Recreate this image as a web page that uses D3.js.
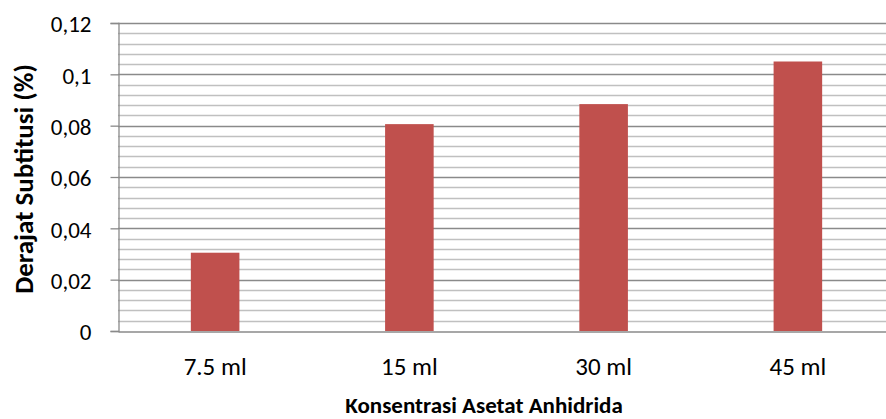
<!DOCTYPE html>
<html>
<head>
<meta charset="utf-8">
<script src="https://cdn.jsdelivr.net/npm/d3@7"></script>
<style>
  html, body { margin: 0; padding: 0; background: #fff; }
  svg { display: block; }
  text { font-family: Carlito, Calibri, Lato, "Open Sans", sans-serif; fill: #000; }
</style>
</head>
<body>
<svg id="chart" width="886" height="419"></svg>
<script>
// Degree of substitution per acetic anhydride amount
const categories = ["7.5 ml", "15 ml", "30 ml", "45 ml"];
const values = [0.0305, 0.0806, 0.0884, 0.105];
const yTicks = [0, 0.02, 0.04, 0.06, 0.08, 0.1, 0.12];
const yTickLabels = ["0", "0,02", "0,04", "0,06", "0,08", "0,1", "0,12"];
const yMinorStep = 0.004;

const svg = d3.select("#chart");
const plot = { left: 118, right: 895, top: 23, bottom: 331 };

const x = d3.scaleBand().domain(categories).range([plot.left, plot.right]).padding(0);
const y = d3.scaleLinear().domain([0, 0.12]).range([plot.bottom, plot.top]);

// minor gridlines
const minor = d3.range(0, 0.12 + 1e-9, yMinorStep).filter(v => !yTicks.some(t => Math.abs(t - v) < 1e-9));
svg.append("g").selectAll("line").data(minor).join("line")
  .attr("x1", plot.left).attr("x2", plot.right)
  .attr("y1", d => Math.round(y(d)) + 0.5).attr("y2", d => Math.round(y(d)) + 0.5)
  .attr("stroke", "#c0c0c0").attr("stroke-width", 1.3);

// major gridlines
svg.append("g").selectAll("line").data(yTicks.slice(1)).join("line")
  .attr("x1", plot.left).attr("x2", plot.right)
  .attr("y1", d => Math.round(y(d)) + 0.5).attr("y2", d => Math.round(y(d)) + 0.5)
  .attr("stroke", "#8a8a8a").attr("stroke-width", 1.3);

// bars
const bw = x.bandwidth() * 0.25;
svg.append("g").selectAll("rect").data(values).join("rect")
  .attr("x", (d, i) => x(categories[i]) + x.bandwidth() / 2 - bw / 2)
  .attr("width", bw)
  .attr("y", d => y(d))
  .attr("height", d => y(0) - y(d))
  .attr("fill", "#c0504d");

// y axis
const yAxis = d3.axisLeft(y).tickValues(yTicks)
  .tickFormat((d, i) => yTickLabels[i]).tickSize(8).tickPadding(19);
const gy = svg.append("g").attr("transform", `translate(${plot.left + 0.5},0)`).call(yAxis);
gy.select(".domain").attr("stroke", "#8a8a8a").attr("stroke-width", 1.3);
gy.selectAll(".tick line").attr("stroke", "#8a8a8a").attr("stroke-width", 1.3);
gy.selectAll(".tick text").style("font-size", "23px").attr("dy", "0.38em").attr("fill", "#000");

// x axis
const xAxis = d3.axisBottom(x).tickSize(0).tickPadding(26);
const gx = svg.append("g").attr("transform", `translate(0,${plot.bottom + 0.5})`).call(xAxis);
gx.select(".domain").attr("stroke", "#8a8a8a").attr("stroke-width", 1.3);
gx.selectAll(".tick text").style("font-size", "25px").attr("fill", "#000");

// axis titles
svg.append("text")
  .attr("x", 484).attr("y", 413)
  .attr("text-anchor", "middle")
  .style("font-size", "23px").style("font-weight", "bold")
  .text("Konsentrasi Asetat Anhidrida");

svg.append("text")
  .attr("transform", `translate(33,179) rotate(-90)`)
  .attr("text-anchor", "middle")
  .style("font-size", "27px").style("font-weight", "bold")
  .text("Derajat Subtitusi (%)");
</script>
</body>
</html>
